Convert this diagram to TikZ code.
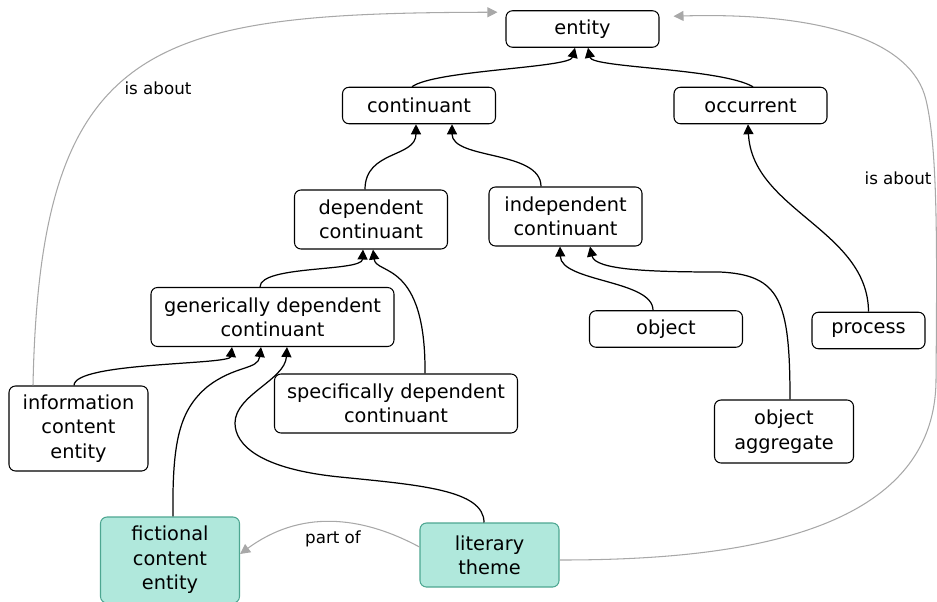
\documentclass[tikz,border=0pt]{standalone}
\usepackage{fontspec}
\setmainfont{DejaVu Sans}
\usetikzlibrary{arrows.meta}
\definecolor{themefill}{RGB}{176,232,220}
\definecolor{themedraw}{RGB}{77,166,145}
\definecolor{relgray}{RGB}{168,168,168}
\tikzset{
    term/.style={draw, rounded corners=1.3mm, align=center, line width=0.6pt,
        minimum width=30.6mm, minimum height=7.3mm, inner sep=1pt,
        font=\fontsize{11}{13.9}\selectfont},
    wideterm/.style={term, minimum width=48.6mm, minimum height=11.8mm},
    smallterm/.style={term, minimum width=27.8mm},
    themeterm/.style={smallterm, fill=themefill, draw=themedraw},
    isa/.style={-{Triangle[length=2mm,width=2mm]}, line width=0.7pt},
    rel/.style={-{Triangle[length=2mm,width=2mm]}, draw=relgray, line width=0.6pt},
    rellabel/.style={font=\fontsize{9.5}{11}\selectfont},
}

\begin{document}
\begin{tikzpicture}[x=0.2mm,y=-0.2mm]
    \useasboundingbox (0,0) rectangle (937,601);

    \node[term] (entity) at (582.5,29) {entity};
    \node[term] (continuant) at (419,105.5) {continuant};
    \node[term] (occurrent) at (750.5,105.5) {occurrent};
    \node[term, minimum height=11.8mm] (depcont) at (371,219.5) {dependent\\continuant};
    \node[term, minimum height=11.8mm] (indepcont) at (565.5,216.5) {independent\\continuant};
    \node[wideterm] (gdc) at (272.5,317) {generically dependent\\continuant};
    \node[wideterm] (sdc) at (396,403.5) {specifically dependent\\continuant};
    \node[term] (object) at (666,329) {object};
    \node[term, minimum width=22.6mm] (process) at (868.5,330.5) {process};
    \node[smallterm, minimum height=12.6mm] (objagg) at (784,431.5) {object\\aggregate};
    \node[smallterm, minimum height=17mm] (ice) at (78.5,428.5) {information\\content\\entity};
    \node[themeterm, minimum height=17.2mm] (fce) at (170,560) {fictional\\content\\entity};
    \node[themeterm, minimum height=12.8mm] (theme) at (489.5,555) {literary\\theme};

    \draw[isa] ([xshift=-1.4mm]continuant.north) .. controls (435,70) and (570,68) .. ([xshift=-1.5mm]entity.south);
    \draw[isa] ([xshift=0.5mm]occurrent.north) .. controls (720,68) and (592,68) .. ([xshift=1.1mm]entity.south);
    \draw[isa] ([xshift=-1.2mm]depcont.north) .. controls (365,150) and (416,158) .. ([xshift=-0.6mm]continuant.south);
    \draw[isa] ([xshift=-4.9mm]indepcont.north) .. controls (541,150) and (452,160) .. ([xshift=6.6mm]continuant.south);
    \draw[isa] (process.north) .. controls (868,230) and (752,210) .. ([xshift=-0.5mm]occurrent.south);
    \draw[isa] ([xshift=-2.5mm]gdc.north) .. controls (260,265) and (362,272) .. ([xshift=-1.6mm]depcont.south);
    \draw[isa] ([xshift=5.8mm]sdc.north) .. controls (426,260) and (376,275) .. ([xshift=0.4mm]depcont.south);
    \draw[isa] ([xshift=-2.6mm]object.north) .. controls (653,280) and (561,282) .. ([xshift=-1.1mm]indepcont.south);
    \draw[isa] ([xshift=1.2mm]objagg.north) .. controls (790,300) and (780,275) .. (720,272)
        .. controls (650,272) and (595,270) .. ([xshift=4.9mm]indepcont.south);
    \draw[isa] ([xshift=-0.9mm]ice.north) .. controls (74,362) and (230,365) .. ([xshift=-8.1mm]gdc.south);
    \draw[isa] ([xshift=0.6mm]fce.north) .. controls (172,440) and (180,410) .. (207,387)
        .. controls (235,365) and (258,370) .. ([xshift=-2.3mm]gdc.south);
    \draw[isa] ([xshift=-1.1mm]theme.north) .. controls (484,490) and (420,485) .. (340,477)
        .. controls (260,469) and (235,445) .. (235,423)
        .. controls (235,395) and (285,380) .. ([xshift=2.9mm]gdc.south);

    \draw[rel] ([xshift=-9.1mm]ice.north) .. controls (40,40) and (150,13) .. ([shift={(-1.6mm,-0.4mm)}]entity.north west);
    \node[rellabel] (aboutleft) at (158,88) {is about};
    \draw[rel] ([yshift=-1mm]theme.east) .. controls (720,560) and (935,540) .. (936,380)
        .. controls (937,250) and (938,150) .. (926,100)
        .. controls (912,40) and (820,12) .. ([shift={(2.8mm,-1.2mm)}]entity.north east);
    \node[rellabel] (aboutright) at (898,178) {is about};
    \draw[rel] ([yshift=1.6mm]theme.west) .. controls (360,515) and (300,510) .. ([yshift=1.2mm]fce.east);
    \node[rellabel] (partof) at (333,539) {part of};
\end{tikzpicture}
\end{document}
